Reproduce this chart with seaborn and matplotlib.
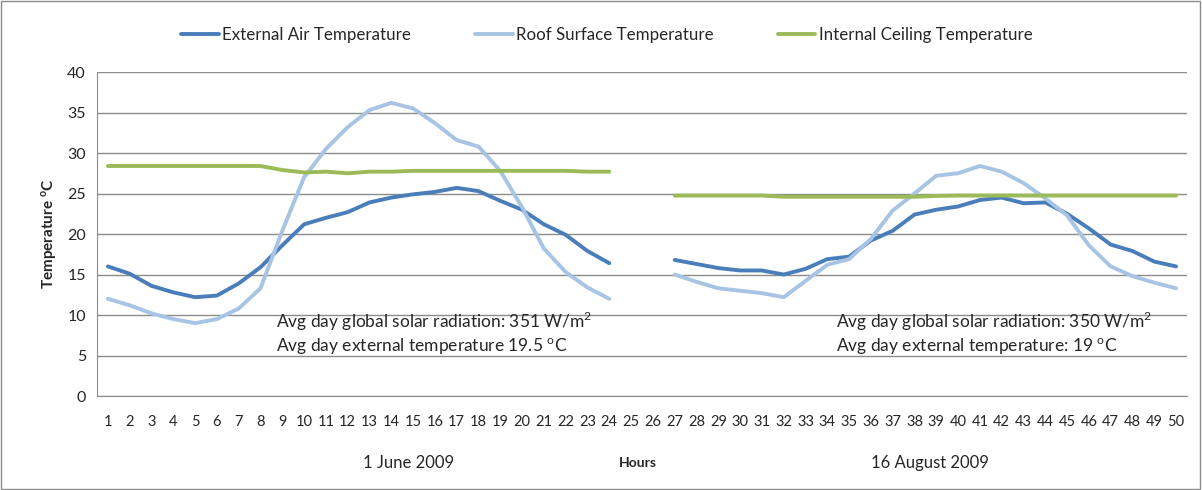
import numpy as np
import pandas as pd
import seaborn as sns
import matplotlib.pyplot as plt
from matplotlib.patches import Rectangle

# Часы (1-24 первый день, 27-50 второй день)
hours_day1 = list(range(1, 25))
hours_day2 = list(range(27, 51))

external_day1 = [16.0, 15.1, 13.6, 12.8, 12.2, 12.4, 13.9, 15.9, 18.6, 21.2, 22.0, 22.7,
                 23.9, 24.5, 24.9, 25.2, 25.7, 25.3, 24.1, 23.0, 21.2, 19.9, 17.9, 16.4]
roof_day1 = [12.0, 11.2, 10.2, 9.5, 9.0, 9.5, 10.8, 13.3, 20.4, 27.0, 30.5, 33.2,
             35.3, 36.2, 35.5, 33.7, 31.6, 30.8, 27.8, 23.3, 18.2, 15.3, 13.4, 12.0]
ceiling_day1 = [28.4, 28.4, 28.4, 28.4, 28.4, 28.4, 28.4, 28.4, 27.9, 27.6, 27.7, 27.5,
                27.7, 27.7, 27.8, 27.8, 27.8, 27.8, 27.8, 27.8, 27.8, 27.8, 27.7, 27.7]

external_day2 = [16.8, 16.3, 15.8, 15.5, 15.5, 15.0, 15.7, 16.9, 17.2, 19.2, 20.4, 22.4,
                 23.0, 23.4, 24.2, 24.5, 23.8, 23.9, 22.5, 20.7, 18.7, 17.9, 16.6, 16.0]
roof_day2 = [15.0, 14.1, 13.3, 13.0, 12.7, 12.2, 14.2, 16.2, 16.9, 19.4, 22.9, 25.0,
             27.2, 27.5, 28.4, 27.7, 26.3, 24.4, 22.3, 18.6, 16.0, 14.8, 14.0, 13.3]
ceiling_day2 = [24.75, 24.75, 24.75, 24.75, 24.75, 24.6, 24.6, 24.6, 24.6, 24.6, 24.6, 24.6,
                24.7, 24.75, 24.75, 24.75, 24.75, 24.75, 24.75, 24.75, 24.75, 24.75, 24.75, 24.75]

series_names = ['External Air Temperature', 'Roof Surface Temperature', 'Internal Ceiling Temperature']
colors = ['#4a7ebb', '#a8c4e4', '#9bbb59']

# Сборка длинной таблицы
rows = []
for day, hrs, vals in [('d1', hours_day1, [external_day1, roof_day1, ceiling_day1]),
                       ('d2', hours_day2, [external_day2, roof_day2, ceiling_day2])]:
    for name, v in zip(series_names, vals):
        for h, t in zip(hrs, v):
            rows.append({'hour': h, 'temp': t, 'series': name, 'day': day})
df = pd.DataFrame(rows)

sns.set_style('white')
plt.rcParams['font.family'] = ['Lato', 'DejaVu Sans']

fig = plt.figure(figsize=(12.02, 4.9), dpi=100)
ax = fig.add_axes([0.0807, 0.1918, 0.9068, 0.6612])

sns.lineplot(data=df, x='hour', y='temp', hue='series', units='day', estimator=None,
             palette=dict(zip(series_names, colors)), hue_order=series_names,
             linewidth=2.8, ax=ax, legend=False)

ax.set_xlim(0.5, 50.5)
ax.set_ylim(0, 40)
ax.set_yticks(range(0, 41, 5))
ax.set_yticklabels([str(v) for v in range(0, 41, 5)], fontsize=11.5)
ax.yaxis.grid(True, color='#8c8c8c', linewidth=1)
ax.set_axisbelow(True)

# Подписи категорий без меток, метки на границах
ax.set_xticks(range(1, 51))
ax.set_xticklabels([str(h) for h in range(1, 51)], fontsize=10.5)
ax.set_xticks(np.arange(0.5, 51, 1), minor=True)
ax.tick_params(axis='x', which='major', length=0, pad=14)
ax.tick_params(axis='x', which='minor', length=5, color='#8c8c8c', width=1)
ax.tick_params(axis='y', length=0, pad=8)
for s in ['top', 'right']:
    ax.spines[s].set_visible(False)
for s in ['left', 'bottom']:
    ax.spines[s].set_color('#8c8c8c')
ax.set_xlabel('')
ax.set_ylabel(r'Temperature $^\mathregular{o}$C', fontsize=11, fontweight='bold', labelpad=6)

ax.text(8.7, 8.4, 'Avg day global solar radiation: 351 W/m$^\\mathregular{2}$', fontsize=12.5)
ax.text(8.7, 5.4, r'Avg day external temperature 19.5 $^\mathregular{o}$C', fontsize=12.5)
ax.text(34.4, 8.4, 'Avg day global solar radiation: 350 W/m$^\\mathregular{2}$', fontsize=12.5)
ax.text(34.4, 5.4, r'Avg day external temperature: 19 $^\mathregular{o}$C', fontsize=12.5)

fig.text(409 / 1202, 1 - 463 / 490, '1 June 2009', fontsize=12, ha='center', va='center')
fig.text(638 / 1202, 1 - 463 / 490, 'Hours', fontsize=10, fontweight='bold', ha='center', va='center')
fig.text(930 / 1202, 1 - 463 / 490, '16 August 2009', fontsize=12, ha='center', va='center')

handles = [plt.Line2D([], [], color=c, linewidth=2.8) for c in colors]
fig.legend(handles, series_names, loc='center', bbox_to_anchor=(0.505, 1 - 35 / 490),
           ncol=3, frameon=False, fontsize=12.2, handlelength=2.2, handletextpad=0.2,
           columnspacing=3.8)

fig.patches.append(Rectangle((0.001, 0.002), 0.997, 0.996, transform=fig.transFigure,
                             fill=False, edgecolor='#8c8c8c', linewidth=1))

fig.savefig('out.png', dpi=100)
